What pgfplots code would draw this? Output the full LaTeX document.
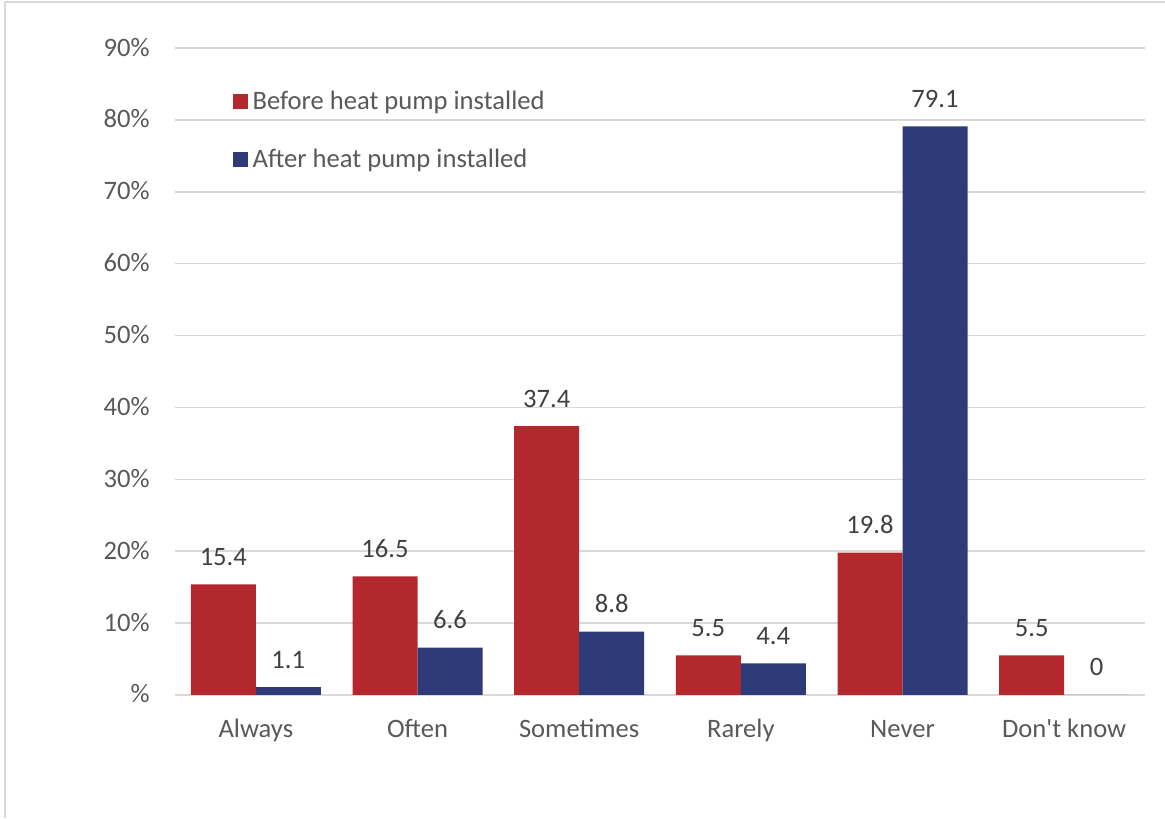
\documentclass[border=0pt]{standalone}
\usepackage{fontspec}
\setmainfont{Carlito}
\usepackage{pgfplots}
\pgfplotsset{compat=1.18}
\definecolor{barred}{RGB}{179,40,45}
\definecolor{barblue}{RGB}{46,59,120}
\definecolor{gridgray}{RGB}{217,217,217}
\definecolor{ticktext}{RGB}{89,89,89}
\definecolor{valtext}{RGB}{64,64,64}
\begin{document}
\begin{tikzpicture}[x=1pt,y=1pt]
\useasboundingbox (0,0) rectangle (582.5,409);
\draw[gridgray, line width=0.75pt] (2.5,0) -- (2.5,408) -- (582.5,408);
\begin{axis}[
  at={(87.5pt,61.5pt)}, anchor=south west,
  scale only axis, width=485pt, height=323.5pt,
  ybar=0pt, bar width=32.5pt,
  xmin=-0.5, xmax=5.5, ymin=0, ymax=90,
  xtick={0,...,5},
  xticklabels={Always,Often,Sometimes,Rarely,Never,Don\textquotesingle t know},
  ytick={0,10,...,90},
  yticklabels={\%,10\%,20\%,30\%,40\%,50\%,60\%,70\%,80\%,90\%},
  axis x line*=bottom, axis y line*=left,
  x axis line style={draw=none}, y axis line style={draw=none},
  major tick length=0pt,
  /pgf/number format/assume math mode=true,
  ymajorgrids, grid style={gridgray, line width=0.75pt},
  tick label style={font=\fontsize{13.3}{16}\selectfont, color=ticktext},
  yticklabel style={anchor=base east, inner sep=0pt, xshift=-12.5pt, yshift=-4pt},
  xticklabel style={anchor=base, inner sep=0pt, yshift=-21.5pt},
  nodes near coords={\pgfmathprintnumber[assume math mode=true]{\pgfplotspointmeta}},
  every node near coord/.append style={anchor=base, inner sep=0pt, yshift=9.5pt,
     font=\fontsize{13.3}{16}\selectfont, color=valtext},
  legend style={draw=none, fill=none, at={(rel axis cs:0.059,0.94)}, anchor=north west,
     font=\fontsize{13.3}{16}\selectfont, text=ticktext, row sep=14pt, inner sep=0pt},
  legend cell align=left,
  legend image code/.code={\fill[#1] (0pt,-3.75pt) rectangle (7.5pt,3.75pt);},
  legend style={nodes={inner xsep=2.5pt}},
]
\addplot[fill=barred, draw=none] coordinates {(0,15.4) (1,16.5) (2,37.4) (3,5.5) (4,19.8) (5,5.5)};
\addplot[fill=barblue, draw=none] coordinates {(0,1.1) (1,6.6) (2,8.8) (3,4.4) (4,79.1) (5,0)};
\legend{Before heat pump installed, After heat pump installed}
\end{axis}
\end{tikzpicture}
\end{document}
